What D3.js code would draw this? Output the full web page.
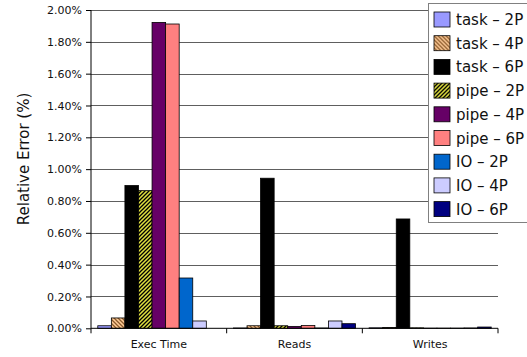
<!DOCTYPE html>
<html>
<head>
<meta charset="utf-8">
<script src="https://cdn.jsdelivr.net/npm/d3@7"></script>
<style>
  html, body { margin: 0; padding: 0; background: #fff; }
  svg { display: block; font-family: "DejaVu Sans", Verdana, sans-serif; }
</style>
</head>
<body>
<svg id="chart" width="527" height="357"></svg>
<script>
// Relative error of the model per metric, in percent
const categories = ["Exec Time", "Reads", "Writes"];
const seriesNames = ["task – 2P", "task – 4P", "task – 6P",
                     "pipe – 2P", "pipe – 4P", "pipe – 6P",
                     "IO – 2P", "IO – 4P", "IO – 6P"];
const task2P = [0.016, 0.002, 0.003];
const task4P = [0.065, 0.016, 0.005];
const task6P = [0.897, 0.943, 0.687];
const pipe2P = [0.865, 0.016, 0.003];
const pipe4P = [1.922, 0.012, 0.001];
const pipe6P = [1.912, 0.018, 0.001];
const io2P   = [0.316, 0.002, 0.001];
const io4P   = [0.046, 0.046, 0.002];
const io6P   = [0.000, 0.029, 0.008];
const yTicks = [0, 0.2, 0.4, 0.6, 0.8, 1.0, 1.2, 1.4, 1.6, 1.8, 2.0];

const seriesValues = [task2P, task4P, task6P, pipe2P, pipe4P, pipe6P, io2P, io4P, io6P];
const fills = ["#9999FF", "url(#hatchOrange)", "#000000",
               "url(#hatchYellow)", "#660066", "#FF8080",
               "#0066CC", "#CCCCFF", "#000080"];

const svg = d3.select("#chart");
const plotLeft = 91, plotRight = 498, plotTop = 10, plotBottom = 328.3;

// hatch patterns
const defs = svg.append("defs");
function hatch(id, bg, fg, dir) {
  const p = defs.append("pattern").attr("id", id)
    .attr("patternUnits", "userSpaceOnUse").attr("width", 4).attr("height", 4);
  p.append("rect").attr("width", 4).attr("height", 4).attr("fill", bg);
  const d = dir > 0 ? "M-1,1 l2,-2 M0,4 l4,-4 M3,5 l2,-2"
                    : "M-1,3 l2,2 M0,0 l4,4 M3,-1 l2,2";
  p.append("path").attr("d", d).attr("stroke", fg).attr("stroke-width", 1.3);
}
hatch("hatchOrange", "#FFCC99", "#8B5A2B", -1);
hatch("hatchYellow", "#E0E040", "#000000", 1);

const y = d3.scaleLinear().domain([0, 2]).range([plotBottom, plotTop]);
const x0 = d3.scaleBand().domain(categories).range([plotLeft, plotRight])
  .paddingInner(0.1).paddingOuter(0.05);
const x1 = d3.scaleBand().domain(d3.range(seriesNames.length))
  .range([0, x0.bandwidth()]);

// gridlines
svg.append("g").selectAll("line").data(yTicks.filter(d => d > 0)).join("line")
  .attr("x1", plotLeft).attr("x2", plotRight)
  .attr("y1", d => Math.round(y(d)) + 0.5).attr("y2", d => Math.round(y(d)) + 0.5)
  .attr("stroke", "#5e5e5e").attr("stroke-width", 1.2);

// bars
const rows = [];
categories.forEach((c, ci) => seriesValues.forEach((vals, si) =>
  rows.push({ c, si, v: vals[ci] })));
svg.append("g").selectAll("rect").data(rows.filter(d => d.v > 0)).join("rect")
  .attr("x", d => x0(d.c) + x1(d.si))
  .attr("width", x1.bandwidth())
  .attr("y", d => y(d.v))
  .attr("height", d => plotBottom - y(d.v))
  .attr("fill", d => fills[d.si])
  .attr("stroke", "#000").attr("stroke-width", 0.8);

// y axis
const yAxis = d3.axisLeft(y).tickValues(yTicks).tickSize(5).tickPadding(4)
  .tickFormat(d => d.toFixed(2) + "%");
const gy = svg.append("g").attr("transform", `translate(${plotLeft},0)`).call(yAxis);
gy.select(".domain").attr("stroke", "#000").attr("d", `M0,${plotTop}V${plotBottom}`);
gy.selectAll(".tick line").attr("stroke", "#000");
gy.selectAll(".tick text").attr("font-size", 11).attr("fill", "#111")
  .attr("font-family", "DejaVu Sans");

// x axis: baseline, category-boundary ticks and labels
svg.append("line").attr("x1", plotLeft).attr("x2", plotRight)
  .attr("y1", plotBottom).attr("y2", plotBottom).attr("stroke", "#000");
const bounds = categories.map((c, i) => plotLeft + i * x0.step()).concat([plotRight]);
svg.append("g").selectAll("line").data(bounds).join("line")
  .attr("x1", d => d).attr("x2", d => d)
  .attr("y1", plotBottom).attr("y2", plotBottom + 5).attr("stroke", "#000");
svg.append("g").selectAll("text").data(categories).join("text")
  .attr("x", d => x0(d) + x0.bandwidth() / 2)
  .attr("y", 348).attr("text-anchor", "middle")
  .attr("font-size", 11).attr("fill", "#111").text(d => d);

// y title
svg.append("text")
  .attr("transform", "translate(29,159) rotate(-90)")
  .attr("text-anchor", "middle").attr("font-size", 15).attr("fill", "#111")
  .text("Relative Error (%)");

// legend
const lg = svg.append("g");
lg.append("rect").attr("x", 428.5).attr("y", 3.5).attr("width", 110).attr("height", 219)
  .attr("fill", "#fff").attr("stroke", "#808080");
const items = lg.selectAll("g").data(seriesNames).join("g")
  .attr("transform", (d, i) => `translate(434,${12 + i * 23.7})`);
items.append("rect").attr("width", 16).attr("height", 15)
  .attr("fill", (d, i) => fills[i]).attr("stroke", "#000").attr("stroke-width", 0.8);
items.append("text").attr("x", 22).attr("y", 13)
  .attr("font-size", 15).attr("fill", "#111").text(d => d);
</script>
</body>
</html>
